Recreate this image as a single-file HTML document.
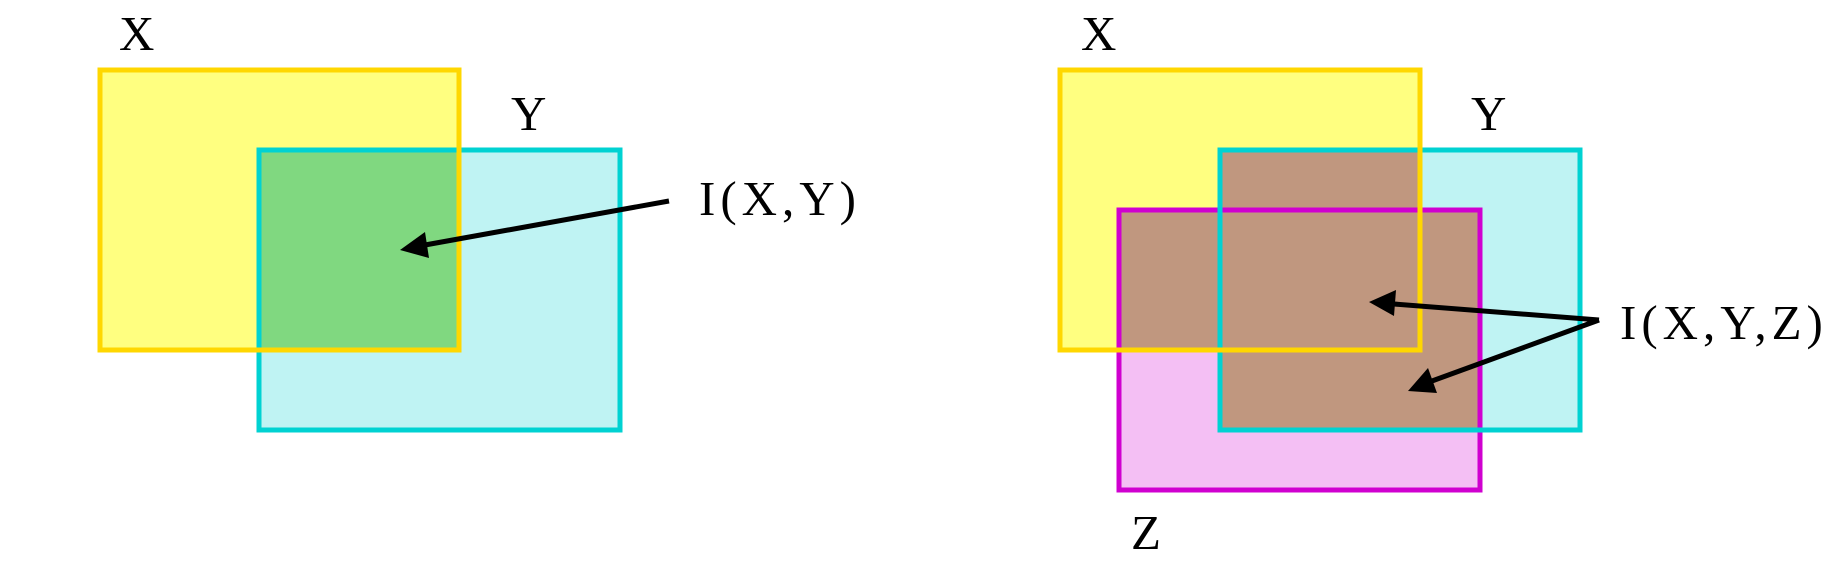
<!DOCTYPE html>
<html><head><meta charset="utf-8"><style>html,body{margin:0;padding:0;background:#fff}svg{display:block}text{font-family:"Liberation Serif",serif;font-size:49px;fill:#000}.lbl{letter-spacing:5px}</style></head>
<body>
<svg width="1841" height="571" viewBox="0 0 1841 571">
<g>
<rect x="100" y="70" width="359" height="280" fill="#ffff80"/>
<rect x="259" y="150" width="361" height="280" fill="#bff3f3"/>
<rect x="259" y="150" width="200" height="200" fill="#80d880"/>
<rect x="259" y="150" width="361" height="280" fill="none" stroke="#00d2d2" stroke-width="5"/>
<rect x="100" y="70" width="359" height="280" fill="none" stroke="#ffd700" stroke-width="5"/>
<line x1="669" y1="201" x2="425" y2="245" stroke="#000" stroke-width="5"/>
<path d="M400,250 L425,232 L429,258 Z" fill="#000"/>
<text x="119" y="50">X</text>
<text x="511" y="130">Y</text>
<text x="699" y="215" class="lbl">I(X,Y)</text>
</g>
<g>
<rect x="1060" y="70" width="360" height="280" fill="#ffff80"/>
<rect x="1220" y="150" width="360" height="280" fill="#bff3f3"/>
<rect x="1119" y="210" width="361" height="280" fill="#f4bff4"/>
<rect x="1220" y="150" width="200" height="200" fill="#c0977f"/>
<rect x="1119" y="210" width="301" height="140" fill="#c0977f"/>
<rect x="1220" y="210" width="260" height="220" fill="#c0977f"/>
<rect x="1119" y="210" width="361" height="280" fill="none" stroke="#d000d0" stroke-width="5"/>
<rect x="1220" y="150" width="360" height="280" fill="none" stroke="#00d2d2" stroke-width="5"/>
<rect x="1060" y="70" width="360" height="280" fill="none" stroke="#ffd700" stroke-width="5"/>
<line x1="1599" y1="320" x2="1394" y2="304" stroke="#000" stroke-width="5"/>
<path d="M1369,302 L1396,290 L1394,316 Z" fill="#000"/>
<line x1="1599" y1="320" x2="1432" y2="381" stroke="#000" stroke-width="5"/>
<path d="M1408,391 L1428,368 L1437,393 Z" fill="#000"/>
<text x="1081" y="50">X</text>
<text x="1471" y="130">Y</text>
<text x="1131" y="549">Z</text>
<text x="1620" y="339" class="lbl">I(X,Y,Z)</text>
</g>
</svg>
</body></html>
